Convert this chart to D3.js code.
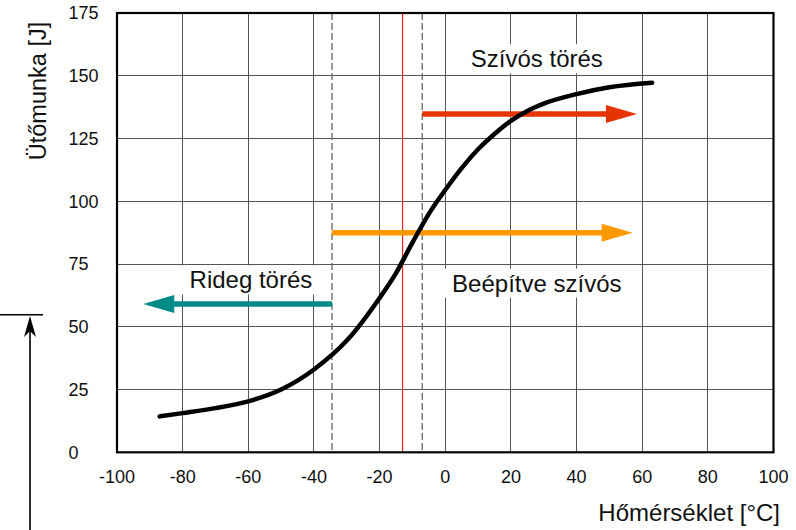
<!DOCTYPE html>
<html>
<head>
<meta charset="utf-8">
<script src="https://cdn.jsdelivr.net/npm/d3@7/dist/d3.min.js"></script>
<style>
  html, body { margin: 0; padding: 0; background: #fff; }
  svg { display: block; font-family: "Liberation Sans", Arial, sans-serif; }
</style>
</head>
<body>
<svg id="chart" width="796" height="530"></svg>
<script>
// ---- data ----
const xTicks = [-100, -80, -60, -40, -20, 0, 20, 40, 60, 80, 100];
const yTicks = [0, 25, 50, 75, 100, 125, 150, 175];
const temps  = [-87, -80, -70, -60, -50, -40, -30, -20, -15, -10, -5, 0, 5, 10, 15, 20, 25, 30, 40, 50, 63];
const energy = [14.3, 15.6, 17.6, 20.3, 25.0, 33.0, 44.5, 61.5, 71.4, 83.5, 95, 104.5, 113.2, 120.7, 126.8, 132, 136, 138.9, 142.7, 145.4, 147.2];
const dashedTemps = [-34.5, -7];
const redTemp = -13;
const arrowFrom = [-34.5, -34.5, -7];
const arrowTo   = [-92, 57.1, 58.4];
const arrowLevel = [59.1, 87.5, 134.8];
const labelTexts = ["Rideg törés", "Beépítve szívós", "Szívós törés"];
const labelTemps = [-59.2, 27.9, 27.9];
const labelLevels = [65.3, 64, 153.4];
const xTitle = "Hőmérséklet [°C]";
const yTitle = "Ütőmunka [J]";

// ---- styles ----
const arrowColors = ["#008b8b", "#ff9900", "#e63400"];

const svg = d3.select("#chart");
const pL = 117, pR = 773.5, pT = 13, pB = 452.3;
const x = d3.scaleLinear().domain([-100, 100]).range([pL, pR]);
const y = d3.scaleLinear().domain([0, 175]).range([pB, pT]);

// grid
const grid = svg.append("g").attr("stroke", "#555").attr("stroke-width", 1).attr("shape-rendering", "crispEdges");
grid.selectAll("line.v").data(xTicks.slice(1, -1)).join("line")
  .attr("x1", d => x(d)).attr("x2", d => x(d)).attr("y1", pT).attr("y2", pB);
grid.selectAll("line.h").data(yTicks.slice(1, -1)).join("line")
  .attr("x1", pL).attr("x2", pR).attr("y1", d => y(d)).attr("y2", d => y(d));

// label boxes + texts
const lab = svg.append("g");
labelTexts.forEach((t, i) => {
  const g = lab.append("g");
  const rect = g.append("rect").attr("fill", "#fff");
  const txt = g.append("text").attr("x", x(labelTemps[i])).attr("y", y(labelLevels[i]))
    .attr("text-anchor", "middle").attr("font-size", 24).attr("fill", "#111").text(t);
  const bb = txt.node().getBBox();
  rect.attr("x", bb.x - 8).attr("y", bb.y - 1).attr("width", bb.width + 16).attr("height", bb.height + 2);
});

// dashed lines
svg.append("g").selectAll("line").data(dashedTemps).join("line")
  .attr("x1", d => x(d)).attr("x2", d => x(d)).attr("y1", pT).attr("y2", pB)
  .attr("stroke", "#666").attr("stroke-width", 1.3).attr("stroke-dasharray", "7,3");

// red line
svg.append("line").attr("x1", x(redTemp)).attr("x2", x(redTemp)).attr("y1", pT).attr("y2", pB)
  .attr("stroke", "#ff1a1a").attr("stroke-width", 1.2);

// arrows
arrowFrom.forEach((f, i) => {
  const x1 = x(f), x2 = x(arrowTo[i]), yy = y(arrowLevel[i]);
  const dir = Math.sign(x2 - x1);
  const hl = 31, hw = 9;
  svg.append("line").attr("x1", x1).attr("x2", x2 - dir * (hl - 2)).attr("y1", yy).attr("y2", yy)
    .attr("stroke", arrowColors[i]).attr("stroke-width", 5.5);
  svg.append("path")
    .attr("d", `M${x2},${yy} L${x2 - dir * hl},${yy - hw} L${x2 - dir * hl},${yy + hw} Z`)
    .attr("fill", arrowColors[i]);
});

// curve
const pts = temps.map((t, i) => [t, energy[i]]);
svg.append("path").datum(pts)
  .attr("d", d3.line().x(d => x(d[0])).y(d => y(d[1])).curve(d3.curveMonotoneX))
  .attr("fill", "none").attr("stroke", "#000").attr("stroke-width", 4.5).attr("stroke-linecap", "round");

// frame
svg.append("rect").attr("x", pL).attr("y", pT).attr("width", pR - pL).attr("height", pB - pT)
  .attr("fill", "none").attr("stroke", "#000").attr("stroke-width", 2.2);

// tick labels
svg.append("g").selectAll("text").data(xTicks).join("text")
  .attr("x", d => x(d)).attr("y", 483).attr("text-anchor", "middle")
  .attr("font-size", 18).attr("fill", "#111").text(d => d);
svg.append("g").selectAll("text").data(yTicks).join("text")
  .attr("x", 68.5).attr("y", d => y(d)).attr("dy", "0.35em").attr("text-anchor", "start")
  .attr("font-size", 18).attr("fill", "#111").text(d => d);

// axis titles
svg.append("text").attr("x", 780).attr("y", 521).attr("text-anchor", "end")
  .attr("font-size", 24).attr("fill", "#111").text(xTitle);
svg.append("text").attr("transform", "translate(46,91) rotate(-90)").attr("text-anchor", "middle")
  .attr("font-size", 23.5).attr("fill", "#111").text(yTitle);

// left annotation (arrow + level line)
svg.append("line").attr("x1", 0).attr("x2", 43).attr("y1", 314.7).attr("y2", 314.7)
  .attr("stroke", "#000").attr("stroke-width", 1.6);
svg.append("line").attr("x1", 30).attr("x2", 30).attr("y1", 530).attr("y2", 328)
  .attr("stroke", "#000").attr("stroke-width", 1.6);
svg.append("path").attr("d", "M30,316 L36,337 L30,331 L24,337 Z").attr("fill", "#000");
</script>
</body>
</html>
